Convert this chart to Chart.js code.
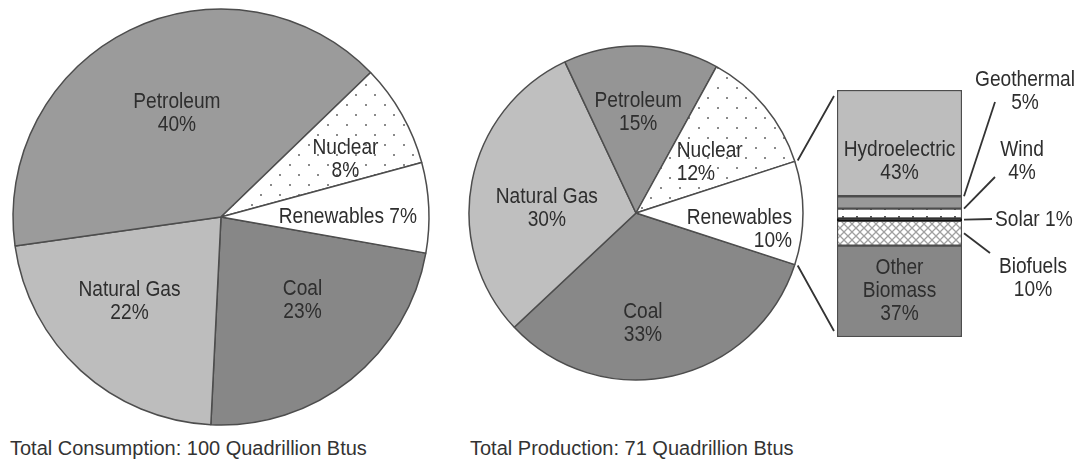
<!DOCTYPE html>
<html>
<head>
<meta charset="utf-8">
<script src="https://cdn.jsdelivr.net/npm/chart.js"></script>
<style>
  html, body { margin: 0; padding: 0; background: #fff; }
  #page { position: relative; width: 1081px; height: 464px; overflow: hidden; }
  canvas { position: absolute; }
  #consumption { left: 0; top: 0; }
  #production { left: 466px; top: 43px; }
  #renewables { left: 780px; top: 0; }
  .total { position: absolute; top: 438px; font: 20px "Liberation Sans", Arial, sans-serif; line-height: 20px; color: #333; white-space: nowrap; }
</style>
</head>
<body>
<div id="page">
  <canvas id="consumption" width="442" height="434"></canvas>
  <canvas id="production" width="340" height="340"></canvas>
  <canvas id="renewables" width="301" height="380"></canvas>
  <div class="total" id="total-cons" style="left:10px"></div>
  <div class="total" id="total-prod" style="left:470px"></div>
</div>
<script>
// data
const consLabels = ['Coal', 'Natural Gas', 'Petroleum', 'Nuclear', 'Renewables'];
const consValues = [23, 22, 40, 8, 7];
const prodLabels = ['Coal', 'Natural Gas', 'Petroleum', 'Nuclear', 'Renewables'];
const prodValues = [33, 30, 15, 12, 10];
const renewLabels = ['Hydroelectric', 'Geothermal', 'Wind', 'Solar', 'Biofuels', 'Other Biomass'];
const renewValues = [43, 5, 4, 1, 10, 37];
const totalTexts = ['Total Consumption: 100 Quadrillion Btus', 'Total Production: 71 Quadrillion Btus'];

const FONT = '22px "Liberation Sans", Arial, sans-serif';
const SQUEEZE = 0.87;   // the labels use a narrow face
const INK = '#2e2e2e';
const EDGE = '#4d4d4d';

function dotPattern() {
    let c = document.createElement('canvas');
    c.width = 19; c.height = 20;
    let g = c.getContext('2d');
    g.fillStyle = '#fff';
    g.fillRect(0, 0, 19, 20);
    g.fillStyle = '#8a8a8a';
    g.fillRect(4, 4, 2, 2);
    g.fillRect(13, 14, 2, 2);
    return g.createPattern(c, 'repeat');
}

function hatchPattern() {
    let c = document.createElement('canvas');
    c.width = 8; c.height = 8;
    let g = c.getContext('2d');
    g.fillStyle = '#fff';
    g.fillRect(0, 0, 8, 8);
    g.strokeStyle = '#a0a0a0';
    g.lineWidth = 1.3;
    g.beginPath();
    g.moveTo(0, 0); g.lineTo(8, 8);
    g.moveTo(8, 0); g.lineTo(0, 8);
    g.stroke();
    return g.createPattern(c, 'repeat');
}

function tickPattern() {
    let c = document.createElement('canvas');
    c.width = 14; c.height = 8;
    let g = c.getContext('2d');
    g.fillStyle = '#fff';
    g.fillRect(0, 0, 14, 8);
    g.fillStyle = '#555';
    g.fillRect(6, 0, 2, 2);
    return g.createPattern(c, 'repeat');
}

function drawText(ctx, lines, x, y, align) {
    ctx.save();
    ctx.translate(x, y);
    ctx.scale(SQUEEZE, 1);
    ctx.font = FONT;
    ctx.fillStyle = INK;
    ctx.textAlign = align || 'center';
    ctx.textBaseline = 'middle';
    lines.forEach((t, j) => ctx.fillText(t, 0, (j - (lines.length - 1) / 2) * 23));
    ctx.restore();
}

// slice labels: f = where along the slice, k = fraction of radius
const pieLabels = {
    id: 'pieLabels',
    afterDatasetsDraw(chart, args, opts) {
        let ctx = chart.ctx;
        let values = chart.data.datasets[0].data;
        chart.getDatasetMeta(0).data.forEach((arc, i) => {
            let p = opts.place[i];
            let a = arc.startAngle + p.f * (arc.endAngle - arc.startAngle);
            let r = p.k * arc.outerRadius;
            let name = chart.data.labels[i];
            let lines = p.oneLine ? [name + ' ' + values[i] + '%'] : [name, values[i] + '%'];
            drawText(ctx, lines, arc.x + r * Math.cos(a), arc.y + r * Math.sin(a), p.align);
        });
    }
};

function pieChart(id, labels, values, colors, rotation, radius, place) {
    return new Chart(document.getElementById(id), {
        type: 'pie',
        data: {
            labels: labels,
            datasets: [{
                data: values,
                backgroundColor: colors,
                borderColor: EDGE,
                borderWidth: 1.5
            }]
        },
        options: {
            responsive: false,
            animation: false,
            events: [],
            radius: radius,
            rotation: rotation,
            layout: { padding: 0 },
            plugins: {
                legend: { display: false },
                tooltip: { enabled: false },
                pieLabels: { place: place }
            }
        },
        plugins: [pieLabels]
    });
}

let consChart = pieChart('consumption', consLabels, consValues,
    ['#878787', '#bdbdbd', '#9b9b9b', dotPattern(), '#ffffff'], 100, 208,
    [{ f: 0.43, k: 0.56 }, { f: 0.56, k: 0.6 }, { f: 0.52, k: 0.54 },
     { f: 0.66, k: 0.66 }, { f: 0.6, k: 0.61, oneLine: true }]);

let prodChart = pieChart('production', prodLabels, prodValues,
    ['#888888', '#bfbfbf', '#959595', dotPattern(), '#ffffff'], 108, 167,
    [{ f: 0.576, k: 0.665 }, { f: 0.43, k: 0.535 }, { f: 0.49, k: 0.6 },
     { f: 0.23, k: 0.39, align: 'left' }, { f: 0.67, k: 0.94, align: 'right' }]);

// labels beside the breakdown bar, with leader lines (canvas coords)
const sideNotes = {
    1: { text: ['Geothermal', '5%'], x: 245, y: 91, from: [215, 102], at: 0 },
    2: { text: ['Wind', '4%'], x: 242, y: 161, from: [215, 177], at: 0 },
    3: { text: ['Solar 1%'], x: 215, y: 220, from: [212, 219], at: 0.5, align: 'left' },
    4: { text: ['Biofuels', '10%'], x: 253, y: 278, from: [210, 253], at: 0.5 }
};
const insideNotes = {
    0: { text: ['Hydroelectric', '43%'], dy: 18 },
    5: { text: ['Other', 'Biomass', '37%'], dy: 0 }
};

const barNotes = {
    id: 'barNotes',
    afterDraw(chart) {
        let ctx = chart.ctx;
        let area = chart.chartArea;
        ctx.save();
        ctx.strokeStyle = '#333';
        ctx.lineWidth = 1.8;

        // connectors from the renewables slice of the production pie
        let arc = prodChart.getDatasetMeta(0).data[4];
        let dx = prodChart.canvas.offsetLeft - chart.canvas.offsetLeft;
        let dy = prodChart.canvas.offsetTop - chart.canvas.offsetTop;
        let R = arc.outerRadius + 3;
        ctx.beginPath();
        ctx.moveTo(arc.x + dx + R * Math.cos(arc.startAngle), arc.y + dy + R * Math.sin(arc.startAngle));
        ctx.lineTo(area.left - 3, area.top + 6);
        ctx.moveTo(arc.x + dx + R * Math.cos(arc.endAngle), arc.y + dy + R * Math.sin(arc.endAngle));
        ctx.lineTo(area.left - 3, area.bottom - 6);
        ctx.stroke();

        chart.data.datasets.forEach((ds, i) => {
            let el = chart.getDatasetMeta(i).data[0];
            let n = sideNotes[i];
            if (n) {
                let yy = el.base + n.at * (el.y - el.base);
                ctx.beginPath();
                ctx.moveTo(n.from[0], n.from[1]);
                ctx.lineTo(el.x + el.width / 2 + 2, yy);
                ctx.stroke();
                drawText(ctx, n.text, n.x, n.y, n.align);
            }
            let m = insideNotes[i];
            if (m) {
                drawText(ctx, m.text, el.x, (el.y + el.base) / 2 + m.dy, 'center');
            }
        });
        ctx.restore();
    }
};

let renewColors = ['#bdbdbd', '#999999', tickPattern(), '#111111', hatchPattern(), '#878787'];

let renewChart = new Chart(document.getElementById('renewables'), {
    type: 'bar',
    data: {
        labels: ['Renewables'],
        datasets: renewLabels.map((name, i) => ({
            label: name,
            data: [renewValues[i]],
            backgroundColor: renewColors[i],
            borderColor: i === 3 ? '#111' : EDGE,
            borderWidth: 1.5,
            borderSkipped: false,
            categoryPercentage: 1,
            barPercentage: 1
        }))
    },
    options: {
        responsive: false,
        animation: false,
        events: [],
        layout: { padding: { left: 57, right: 119, top: 90, bottom: 43 } },
        scales: {
            x: { stacked: true, display: false },
            y: { stacked: true, display: false, min: 0, max: 100, reverse: true }
        },
        plugins: {
            legend: { display: false },
            tooltip: { enabled: false }
        }
    },
    plugins: [barNotes]
});

document.getElementById('total-cons').textContent = totalTexts[0];
document.getElementById('total-prod').textContent = totalTexts[1];
</script>
</body>
</html>
